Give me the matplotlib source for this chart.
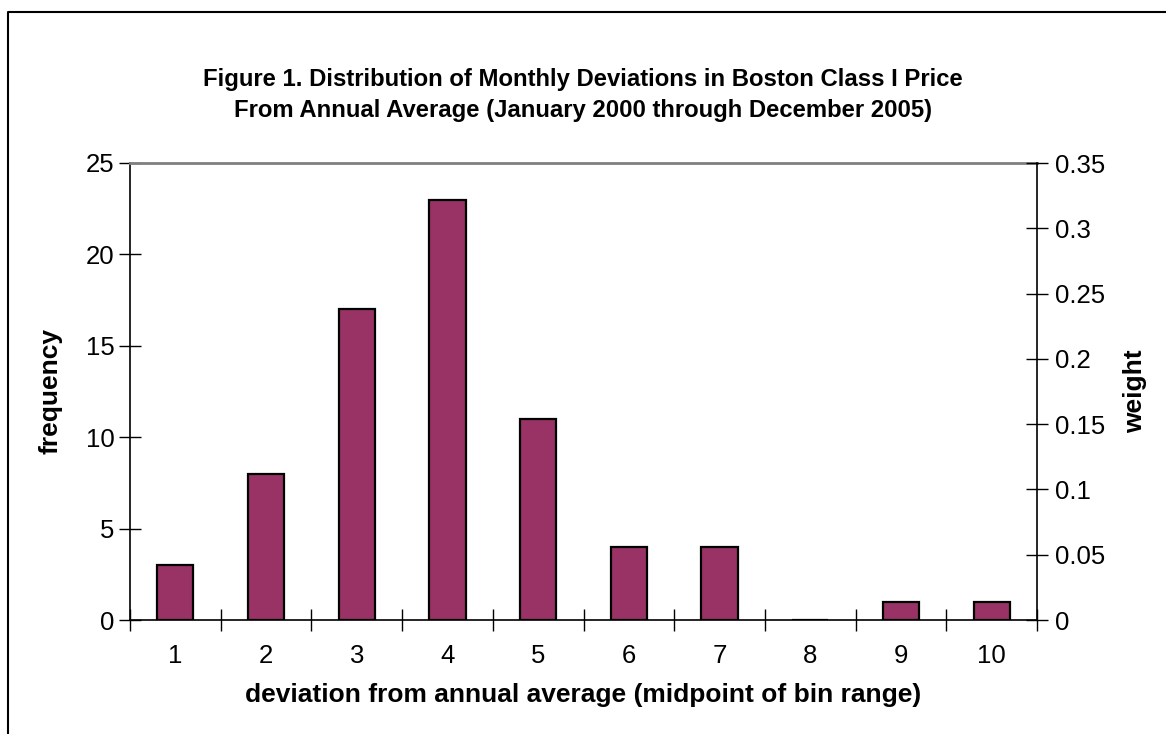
import numpy as np
import matplotlib
matplotlib.use("Agg")
import matplotlib.pyplot as plt
from matplotlib.lines import Line2D

# data
categories = ["1", "2", "3", "4", "5", "6", "7", "8", "9", "10"]
frequency = [3, 8, 17, 23, 11, 4, 4, 0, 1, 1]
freq_ticks = [0, 5, 10, 15, 20, 25]
weight_ticks = [0, 0.05, 0.1, 0.15, 0.2, 0.25, 0.3, 0.35]
weight_labels = ["0", "0.05", "0.1", "0.15", "0.2", "0.25", "0.3", "0.35"]

BAR = "#993366"
plt.rcParams.update({"font.family": ["Liberation Sans", "DejaVu Sans"]})

fig = plt.figure(figsize=(11.66, 7.34), dpi=100)
ax = fig.add_axes([130 / 1166, 1 - 620 / 734, 907 / 1166, 457 / 734])

x = np.arange(1, len(categories) + 1)
ax.bar(x, frequency, width=0.4, color=BAR, edgecolor="black", linewidth=1.6, zorder=3)

ax.set_xlim(0.5, len(categories) + 0.5)
ax.set_ylim(0, 25)
ax.set_yticks(freq_ticks)
ax.set_xticks(x)
ax.set_xticklabels(categories)
ax.set_xticks(np.arange(0.5, len(categories) + 1), minor=True)
ax.tick_params(axis="x", which="major", length=0, pad=17, labelsize=18.5)
ax.tick_params(axis="x", which="minor", direction="inout", length=16, width=1)
ax.tick_params(axis="y", direction="inout", length=16, width=1, labelsize=18.5, pad=3)

for s in ("left", "bottom"):
    ax.spines[s].set_color("black")
    ax.spines[s].set_linewidth(1.2)
ax.spines["top"].set_color("#808080")
ax.spines["top"].set_linewidth(2)
ax.spines["right"].set_visible(False)

ax2 = ax.twinx()
ax2.set_ylim(0, 0.35)
ax2.set_yticks(weight_ticks)
ax2.set_yticklabels(weight_labels)
ax2.tick_params(axis="y", direction="inout", length=16, width=1, labelsize=18.5, pad=5)
for s in ("left", "top", "bottom"):
    ax2.spines[s].set_visible(False)
ax2.spines["right"].set_color("black")
ax2.spines["right"].set_linewidth(1.2)

ax.set_ylabel("frequency", fontsize=19, fontweight="bold", labelpad=17)
ax2.set_ylabel("weight", fontsize=19, fontweight="bold", labelpad=12.5)
ax.set_xlabel("deviation from annual average (midpoint of bin range)",
              fontsize=19, fontweight="bold", labelpad=11)

fig.text(0.5, 1 - 95 / 734,
         "Figure 1. Distribution of Monthly Deviations in Boston Class I Price\n"
         "From Annual Average (January 2000 through December 2005)",
         ha="center", va="center", fontsize=17.2, fontweight="bold", linespacing=1.42)

# outer chart border (top and left edges visible)
fig.add_artist(Line2D([8 / 1166, 8 / 1166, 1.0], [0.0, 1 - 12 / 734, 1 - 12 / 734],
                      transform=fig.transFigure, color="black", linewidth=1.5))

fig.savefig("out.png", dpi=100)
